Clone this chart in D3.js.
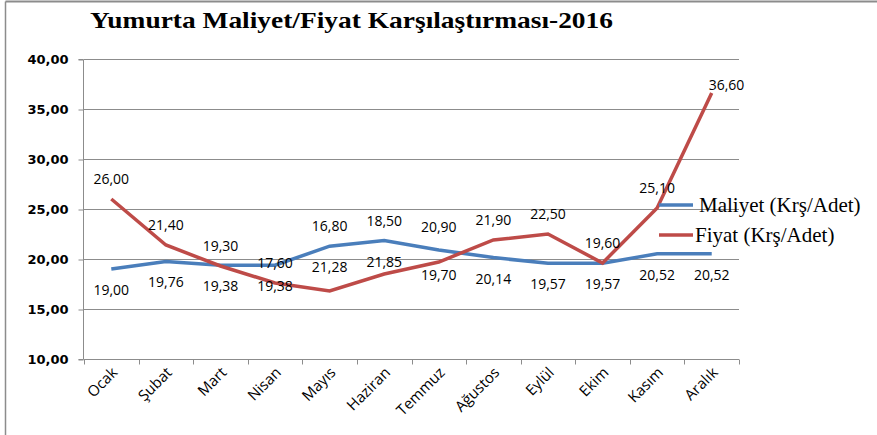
<!DOCTYPE html>
<html>
<head>
<meta charset="utf-8">
<script src="https://cdn.jsdelivr.net/npm/d3@7/dist/d3.min.js"></script>
<style>
    body { margin: 0; background: #fff; }
    svg { display: block; }
    .grid line { stroke: #8c8c8c; stroke-width: 1; }
    .axis path, .axis line { stroke: #8c8c8c; }
    .y-axis text { font-family: "DejaVu Sans"; font-weight: bold; font-size: 13px; fill: #000; }
    .x-axis text { font-family: "Open Sans"; font-size: 15px; fill: #000; }
    .value { font-family: "Open Sans"; font-size: 14px; fill: #000; }
    .legend text { font-family: "Liberation Serif"; font-size: 21px; fill: #000; }
</style>
</head>
<body>
<div id="chart"></div>
<script>

var months = ['Ocak', 'Şubat', 'Mart', 'Nisan', 'Mayıs', 'Haziran',
    'Temmuz', 'Ağustos', 'Eylül', 'Ekim', 'Kasım', 'Aralık'];

var maliyet = [19.00, 19.76, 19.38, 19.38, 21.28, 21.85, 20.90, 20.14, 19.57, 19.57, 20.52, 20.52];
var fiyat = [26.00, 21.40, 19.30, 17.60, 16.80, 18.50, 19.70, 21.90, 22.50, 19.60, 25.10, 36.60];

var yTicks = [10, 15, 20, 25, 30, 35, 40];

var seriesNames = ['Maliyet (Krş/Adet)', 'Fiyat (Krş/Adet)'];

// months where the two labels were swapped (cost label on top)
var swappedLabels = ['Temmuz'];


var width = 877;
var height = 435;
var margin = { left: 84, top: 59, right: 138, bottom: 76 };

var blue = '#4a7ebb';
var red = '#be4b48';

var fmt = function(v) {
    return d3.format('.2f')(v).replace('.', ',');
};

var svg = d3.select('#chart')
    .append('svg')
    .attr('width', width)
    .attr('height', height);

// outer frame (only top and left edges visible)
svg.append('line')
    .attr('x1', 5.5).attr('y1', 1.5).attr('x2', width).attr('y2', 1.5)
    .style('stroke', '#8c8c8c').style('stroke-width', 2);
svg.append('line')
    .attr('x1', 5.5).attr('y1', 1.5).attr('x2', 5.5).attr('y2', height)
    .style('stroke', '#8c8c8c').style('stroke-width', 1.5);

svg.append('text')
    .attr('x', 90)
    .attr('y', 28)
    .attr('textLength', 523)
    .attr('lengthAdjust', 'spacingAndGlyphs')
    .style('font-family', 'Liberation Serif')
    .style('font-weight', 'bold')
    .style('font-size', '24px')
    .text('Yumurta Maliyet/Fiyat Karşılaştırması-2016');

var x = d3.scaleBand()
    .domain(months)
    .range([margin.left, width - margin.right]);

var y = d3.scaleLinear()
    .domain([10, 40])
    .range([height - margin.bottom, margin.top]);

var cx = function(m) {
    return x(m) + x.bandwidth() / 2;
};

// horizontal grid
svg.append('g')
    .attr('class', 'grid')
    .selectAll('line')
    .data(yTicks.slice(1))
    .enter()
    .append('line')
    .attr('x1', x.range()[0])
    .attr('x2', x.range()[1])
    .attr('y1', d => Math.round(y(d)) + 0.5)
    .attr('y2', d => Math.round(y(d)) + 0.5);

// y axis
var yAxis = svg.append('g')
    .attr('class', 'axis y-axis')
    .attr('transform', 'translate(' + (x.range()[0] - 0.5) + ',0.5)')
    .call(d3.axisLeft(y)
        .tickValues(yTicks)
        .tickSize(5)
        .tickPadding(10)
        .tickFormat(fmt));
yAxis.select('.domain').attr('d', 'M-5,' + y(40) + 'H0V' + y(10) + 'H-5');

// x axis: ticks on band edges
var xAxis = svg.append('g')
    .attr('class', 'axis x-axis')
    .attr('transform', 'translate(0,' + (y(10) + 0.5) + ')');

xAxis.append('line')
    .attr('x1', x.range()[0])
    .attr('x2', x.range()[1])
    .attr('y1', 0)
    .attr('y2', 0);

xAxis.selectAll('line.tick')
    .data(months.concat(['end']))
    .enter()
    .append('line')
    .attr('class', 'tick')
    .attr('x1', d => Math.round(d === 'end' ? x.range()[1] : x(d)) + 0.5)
    .attr('x2', d => Math.round(d === 'end' ? x.range()[1] : x(d)) + 0.5)
    .attr('y1', 0)
    .attr('y2', 5);

xAxis.selectAll('text')
    .data(months)
    .enter()
    .append('text')
    .attr('text-anchor', 'end')
    .attr('transform', d => 'translate(' + (cx(d) + 7) + ',14) rotate(-45)')
    .text(d => d);

// lines
var line = d3.line()
    .x(d => cx(d.month))
    .y(d => y(d.value));

var toPoints = function(values) {
    return values.map((v, i) => ({ month: months[i], value: v, index: i }));
};

svg.append('path')
    .datum(toPoints(maliyet))
    .attr('d', line)
    .style('fill', 'none')
    .style('stroke', blue)
    .style('stroke-width', 3.5);

svg.append('path')
    .datum(toPoints(fiyat))
    .attr('d', line)
    .style('fill', 'none')
    .style('stroke', red)
    .style('stroke-width', 3.5);

// value labels
var fiyatLabelY = function(d) {
    var i = d.index;
    if (swappedLabels.indexOf(d.month) >= 0) {
        return y(d.value) + 18;
    }
    // price well under cost: label lifted above the cost line
    var anchor = d.value < maliyet[i] - 3 ? maliyet[i] : d.value;
    return y(anchor) - 15;
};

var maliyetLabelY = function(d) {
    if (swappedLabels.indexOf(d.month) >= 0) {
        return y(d.value) - 18;
    }
    return y(d.value) + 26;
};

svg.append('g')
    .selectAll('text')
    .data(toPoints(fiyat))
    .enter()
    .append('text')
    .attr('class', 'value')
    .attr('x', d => d.index === months.length - 1 ? cx(d.month) - 3 : cx(d.month))
    .attr('y', d => d.index === months.length - 1 ? y(d.value) - 3 : fiyatLabelY(d))
    .attr('text-anchor', d => d.index === months.length - 1 ? 'start' : 'middle')
    .text(d => fmt(d.value));

svg.append('g')
    .selectAll('text')
    .data(toPoints(maliyet))
    .enter()
    .append('text')
    .attr('class', 'value')
    .attr('x', d => cx(d.month))
    .attr('y', maliyetLabelY)
    .attr('text-anchor', 'middle')
    .text(d => fmt(d.value));

// legend
var legend = svg.append('g')
    .attr('class', 'legend')
    .attr('transform', 'translate(659,205)');

var items = legend.selectAll('g')
    .data(seriesNames)
    .enter()
    .append('g')
    .attr('transform', (d, i) => 'translate(0,' + i * 30 + ')');

items.append('line')
    .attr('x1', 0)
    .attr('x2', 34)
    .style('stroke', (d, i) => i === 0 ? blue : red)
    .style('stroke-width', 3.5);

items.append('text')
    .attr('x', (d, i) => i === 0 ? 40 : 36)
    .attr('y', 7)
    .text(d => d);

</script>
</body>
</html>
